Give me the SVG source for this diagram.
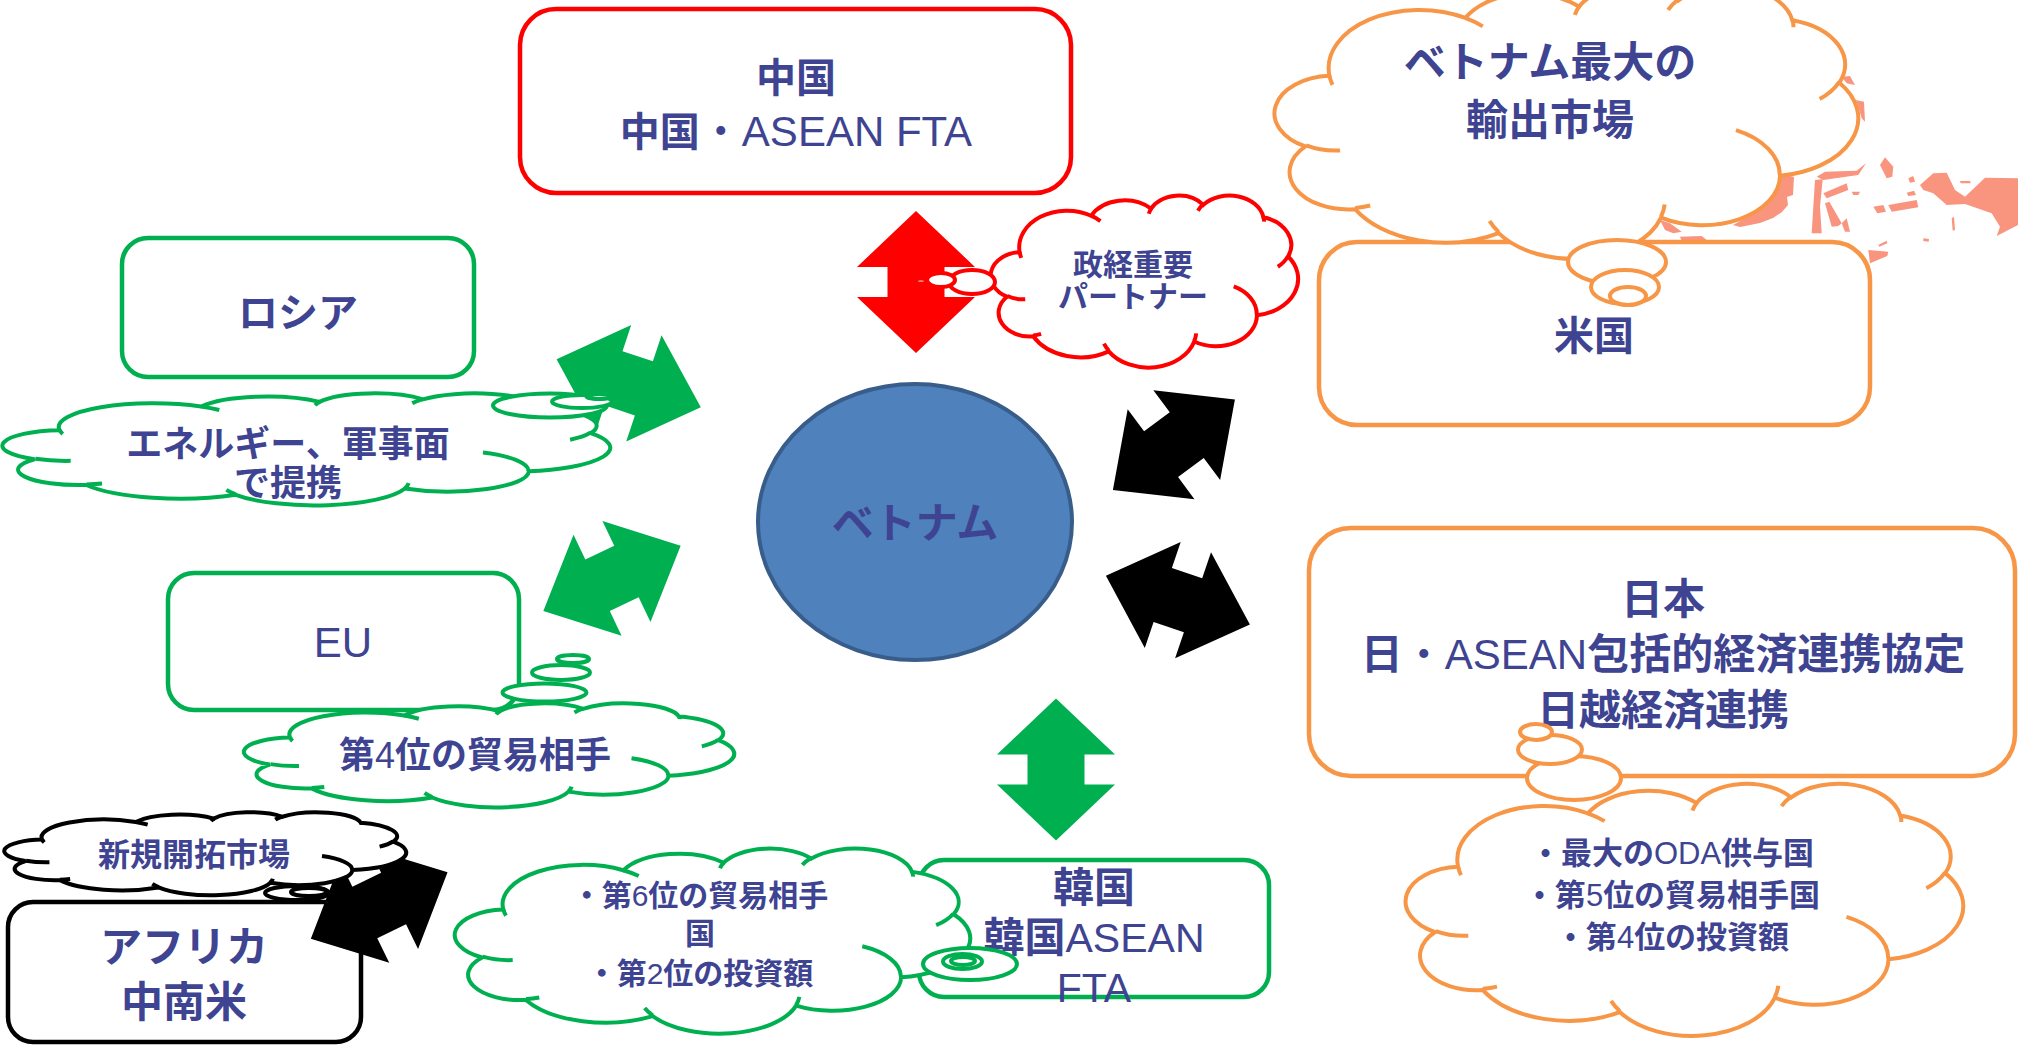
<svg xmlns="http://www.w3.org/2000/svg" width="2018" height="1045" viewBox="0 0 2018 1045">
<style>
  .box{fill:#fff;stroke-width:4.5}
  .cl{fill:#fff;stroke-width:4}
  .red{stroke:#FF0000}
  .grn{stroke:#00B050}
  .org{stroke:#F79646}
  .blk{stroke:#000}
  .t{font-family:"Liberation Sans","Noto Sans CJK JP",sans-serif;fill:#3E4491;stroke:none;text-anchor:middle;font-weight:bold}
  .n{font-weight:normal}
  .frag{fill:#F9957F}
</style>
<defs>
  <!-- cloud outline on a 1000x1000 box -->
  <path id="cloudShape" vector-effect="non-scaling-stroke" d="M90.3,332.6 A156.3,212.7 0 0 1 324.2,120.4 A123.4,168.2 0 0 1 519.8,79.4 A101,137.6 0 0 1 690.6,57.3 A112.4,152.7 0 0 1 887,129 A123.4,168.4 0 0 1 968,357.8 A156.8,213.4 0 0 1 865.8,699.1 A133.9,182.1 0 0 1 661,852.1 A156.3,213.3 0 0 1 381.5,908.9 A178.7,244.1 0 0 1 134.4,821.1 A100.9,137 0 0 1 48.9,591.4 A100.6,137.6 0 0 1 90.3,332.6 Z"/>
  <!-- short inner seams of the cloud -->
  <path id="cloudSeams" fill="none" vector-effect="non-scaling-stroke" d="M108.6,605.9 A100.6,137.6 0 0 1 50,587.5 M160.4,807.9 A100.9,137 0 0 1 134.7,816.7 M381.4,904.9 A156.3,213.3 0 0 1 365.9,864.5 M667.3,804.4 A156.3,213.3 0 0 1 661.1,848.6 M790,531.3 A133.9,182.1 0 0 1 865.3,696.5 M967.5,355.4 A123.4,168.4 0 0 1 934,417.4 M887.1,125.6 A112.4,152.7 0 0 1 888.9,154.9 M673.1,91.5 A112.4,152.7 0 0 1 690.3,54.1 M512.5,109.3 A101,137.6 0 0 1 520.8,77.1 M324.1,120.2 A156.3,212.7 0 0 1 354.2,151.4 M95.5,365.5 A156.3,212.7 0 0 1 90.3,332.6"/>
  <!-- double-headed block arrows -->
  <polygon id="arrowDiag" points="-76,0 -16,-56 -16,-28.5 16,-28.5 16,-56 76,0 16,56 16,28.5 -16,28.5 -16,56"/>
  <polygon id="arrowVert" points="-71,0 -15,-59 -15,-28.5 15,-28.5 15,-59 71,0 15,59 15,28.5 -15,28.5 -15,59"/>
</defs>

<!-- salmon shards behind the top-right cloud -->
<g id="fragments" class="frag">
  <polygon points="1841.7,76.7 1850,76 1855,85 1846.7,83.3"/>
  <polygon points="1856,100 1864,101.7 1865,121.7 1861.7,118.3 1858.3,106.7"/>
  <polygon points="1780,173 1794,177 1793,195 1787,197 1788,205 1782,212 1773,218 1760,223 1740,227 1733,225 1760,210 1775,195"/>
  <polygon points="1660,220 1670,223.3 1681.7,231.7 1673.3,233.3 1665,230"/>
  <polygon points="1680,236.7 1701.7,236 1706.7,240 1681.7,240.7"/>
  <polygon points="1816.7,176.7 1825,171.7 1856.7,170.7 1866,163.3 1858.3,175 1823.3,180"/>
  <polygon points="1815,180 1822.7,179.3 1820,206.7 1821.7,233.3 1811.7,233.3 1813.3,206.7"/>
  <polygon points="1823.3,193.3 1846.7,183.3 1848.3,190 1826.7,198.3"/>
  <polygon points="1825,203.3 1829.3,201.7 1841.7,223.3 1838.3,226 1831.7,226.7"/>
  <polygon points="1841.7,223.3 1846.7,218.3 1850,231.7 1845,231.7"/>
  <polygon points="1880,165 1885,157.3 1893.3,166.7 1892.3,176.7 1886.7,178.3"/>
  <polygon points="1851.7,191.7 1860,191.7 1858.3,195 1853.3,195"/>
  <polygon points="1873.3,206.7 1883.3,205 1886,211.7 1877.3,213.3"/>
  <polygon points="1888.3,205 1916.7,200 1918.3,207.3 1891.7,211.7"/>
  <polygon points="1908.3,178.3 1913.3,176 1915,181.7 1910,182.7"/>
  <polygon points="1906.7,192.7 1914,190.7 1916,195 1908.3,196"/>
  <polygon points="1920,185 1933.3,173.3 1946.7,172.7 1955,190 1965,196.7 1985,177.7 2018,178.3 2018,225 1996.7,236 2000,226.7 1991.7,213.3 1965,204 1946.7,205 1933.3,193.3 1923.3,190"/>
  <polygon points="1951.7,218.3 1954,216.7 1955,230 1952.7,230.7"/>
  <polygon points="1960,181 1970,181 1970.7,183.3 1960.7,183.3"/>
  <polygon points="1923.3,238.3 1929,239 1928.7,241.7 1923.3,241"/>
  <polygon points="1868.3,250 1888.3,251.7 1887.3,256 1870,263.3"/>
  <polygon points="1878.3,245 1886.7,240.7 1887.3,243.3 1879.3,246.7"/>
</g>

<!-- partner boxes -->
<g id="node-china">
  <rect class="box red" x="520" y="9" width="551" height="184" rx="36"/>
  <text class="t" x="796" y="92" font-size="40">中国</text>
  <text class="t" x="796" y="146" font-size="40">中国<tspan class="n" font-size="42">・ASEAN FTA</tspan></text>
</g>
<g id="node-usa">
  <rect class="box org" x="1319" y="242" width="551" height="183" rx="38"/>
  <text class="t" x="1594" y="350" font-size="40">米国</text>
</g>
<g id="node-russia">
  <rect class="box grn" x="122" y="238" width="352" height="139" rx="26"/>
  <text class="t" x="298" y="327" font-size="40">ロシア</text>
</g>
<g id="node-eu">
  <rect class="box grn" x="168" y="573" width="351" height="137" rx="26"/>
  <text class="t n" x="343" y="657" font-size="42">EU</text>
</g>
<g id="node-africa">
  <rect class="box blk" x="8" y="902" width="353" height="140" rx="25" stroke-width="5.5"/>
  <text class="t" x="184" y="962" font-size="42">アフリカ</text>
  <text class="t" x="184" y="1017" font-size="42">中南米</text>
</g>
<g id="node-korea">
  <rect class="box grn" x="919" y="860" width="350" height="137" rx="25"/>
  <text class="t" x="1094" y="902" font-size="41">韓国</text>
  <text class="t" x="1094" y="952" font-size="41">韓国<tspan class="n">ASEAN</tspan></text>
  <text class="t n" x="1094" y="1002" font-size="41">FTA</text>
</g>
<g id="node-japan">
  <rect class="box org" x="1309" y="528" width="706" height="248" rx="42"/>
  <text class="t" x="1663" y="614" font-size="42">日本</text>
  <text class="t" x="1663" y="669" font-size="42">日<tspan class="n">・ASEAN</tspan>包括的経済連携協定</text>
  <text class="t" x="1663" y="725" font-size="42">日越経済連携</text>
</g>

<!-- two-way arrows between Vietnam and each partner -->
<g id="connectors">
  <use href="#arrowVert" fill="#FF0000" transform="translate(916,282) rotate(90)"/>
  <use href="#arrowDiag" fill="#00B050" transform="translate(628.7,383.3) rotate(18.4)"/>
  <use href="#arrowDiag" fill="#00B050" transform="translate(612,578.4) rotate(-25.4)"/>
  <use href="#arrowDiag" fill="#000" transform="translate(1173.9,444.7) rotate(-36.6)"/>
  <use href="#arrowDiag" fill="#000" transform="translate(1177.9,600.2) rotate(18.7)"/>
  <use href="#arrowVert" fill="#00B050" transform="translate(1056,769.5) rotate(90)"/>
  <use href="#arrowDiag" fill="#000" transform="translate(379.2,905.5) rotate(-25.9)"/>
</g>

<g id="node-vietnam">
  <ellipse cx="915" cy="522" rx="157" ry="138" fill="#4F81BD" stroke="#385D8A" stroke-width="4"/>
  <text class="t" x="915" y="538" font-size="42">ベトナム</text>
</g>

<!-- callout clouds -->
<g id="note-china" class="cl red">
  <use href="#cloudShape" transform="translate(992,195) scale(0.306,0.172)"/>
  <use href="#cloudSeams" transform="translate(992,195) scale(0.306,0.172)"/>
  <ellipse cx="972" cy="282" rx="23" ry="12"/>
  <ellipse cx="941" cy="280" rx="14" ry="7"/>
  <ellipse cx="921" cy="281" rx="6" ry="2.5"/>
  <text class="t" x="1133" y="275" font-size="30">政経重要</text>
  <text class="t" x="1133" y="307" font-size="30">パートナー</text>
</g>
<g id="note-usa" class="cl org">
  <use href="#cloudShape" transform="translate(1277,-15) scale(0.581,0.273)"/>
  <use href="#cloudSeams" transform="translate(1277,-15) scale(0.581,0.273)"/>
  <ellipse cx="1617" cy="262" rx="49" ry="22"/>
  <ellipse cx="1625" cy="287" rx="34" ry="17"/>
  <ellipse cx="1628" cy="296" rx="18" ry="9"/>
  <text class="t" x="1550" y="77" font-size="42">ベトナム最大の</text>
  <text class="t" x="1550" y="135" font-size="42">輸出市場</text>
</g>
<g id="note-russia" class="cl grn">
  <use href="#cloudShape" transform="translate(5,393) scale(0.605,0.112)"/>
  <use href="#cloudSeams" transform="translate(5,393) scale(0.605,0.112)"/>
  <ellipse cx="550" cy="405.5" rx="57" ry="12"/>
  <ellipse cx="582" cy="401.5" rx="30" ry="6.5"/>
  <ellipse cx="599" cy="396.5" rx="12.5" ry="2.5"/>
  <text class="t" x="288" y="457" font-size="36">エネルギー、軍事面</text>
  <text class="t" x="288" y="496" font-size="36">で提携</text>
</g>
<g id="note-eu" class="cl grn">
  <use href="#cloudShape" transform="translate(246,703) scale(0.488,0.104)"/>
  <use href="#cloudSeams" transform="translate(246,703) scale(0.488,0.104)"/>
  <ellipse cx="544.5" cy="692.5" rx="42" ry="9"/>
  <ellipse cx="561" cy="672.5" rx="29" ry="7.5"/>
  <ellipse cx="573" cy="659" rx="16" ry="4"/>
  <text class="t" x="475" y="768" font-size="36">第<tspan class="n">4</tspan>位の貿易相手</text>
</g>
<g id="note-africa" class="cl blk">
  <use href="#cloudShape" transform="translate(6,812) scale(0.400,0.083)"/>
  <use href="#cloudSeams" transform="translate(6,812) scale(0.400,0.083)"/>
  <ellipse cx="297" cy="893" rx="32" ry="7"/>
  <ellipse cx="309" cy="892" rx="18" ry="4"/>
  <text class="t" x="194" y="866" font-size="32">新規開拓市場</text>
</g>
<g id="note-korea" class="cl grn">
  <use href="#cloudShape" transform="translate(457,848) scale(0.513,0.185)"/>
  <use href="#cloudSeams" transform="translate(457,848) scale(0.513,0.185)"/>
  <ellipse cx="970" cy="964" rx="47" ry="16"/>
  <ellipse cx="962.5" cy="961.5" rx="19.5" ry="7.5"/>
  <ellipse cx="963" cy="961" rx="12" ry="4"/>
  <text class="t" x="700" y="906" font-size="30">・第<tspan class="n">6</tspan>位の貿易相手</text>
  <text class="t" x="700" y="944" font-size="30">国</text>
  <text class="t" x="700" y="984" font-size="30">・第<tspan class="n">2</tspan>位の投資額</text>
</g>
<g id="note-japan" class="cl org">
  <use href="#cloudShape" transform="translate(1408,783) scale(0.555,0.252)"/>
  <use href="#cloudSeams" transform="translate(1408,783) scale(0.555,0.252)"/>
  <ellipse cx="1574" cy="778" rx="47" ry="22"/>
  <ellipse cx="1550" cy="749.5" rx="32" ry="14.5"/>
  <ellipse cx="1536" cy="732" rx="16" ry="8"/>
  <text class="t" x="1672" y="864" font-size="31">・最大の<tspan class="n">ODA</tspan>供与国</text>
  <text class="t" x="1672" y="906" font-size="31">・第<tspan class="n">5</tspan>位の貿易相手国</text>
  <text class="t" x="1672" y="948" font-size="31">・第<tspan class="n">4</tspan>位の投資額</text>
</g>
</svg>
